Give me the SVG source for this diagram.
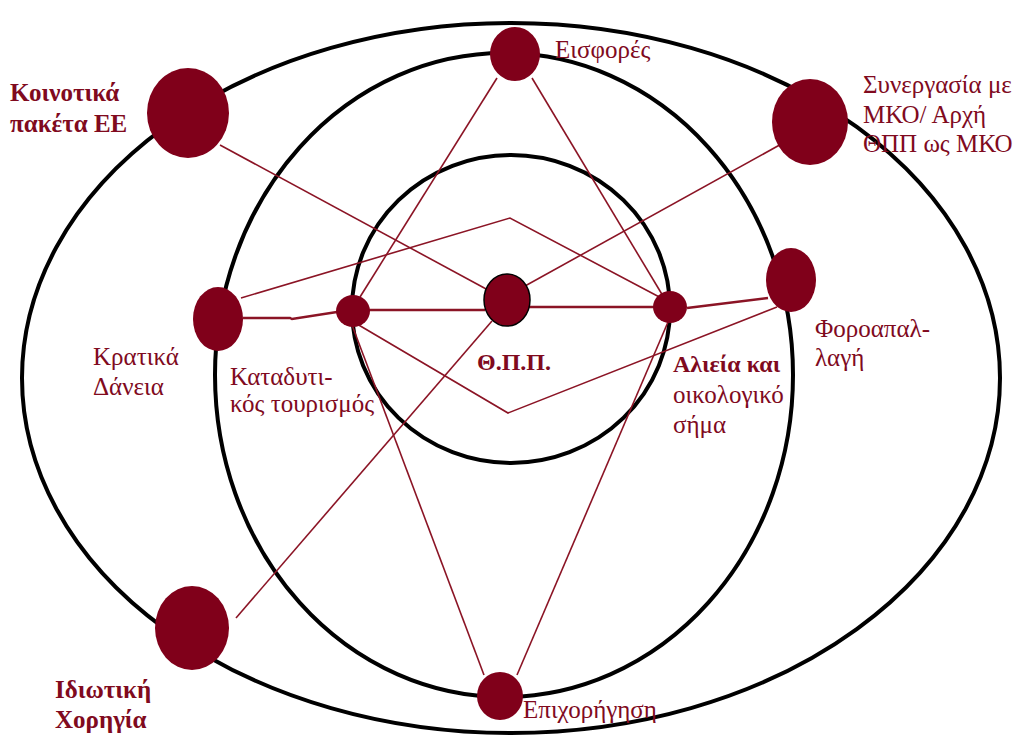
<svg xmlns="http://www.w3.org/2000/svg" width="1025" height="736" viewBox="0 0 1025 736">
<style>
.ring{fill:none;stroke:#000;stroke-width:4}
.ln{fill:none;stroke:#8b1425;stroke-width:1.6}
.th{stroke-width:2.4}
.nd{fill:#80001a}
.t{font-family:'Liberation Serif','Times New Roman',serif;font-size:25px;fill:#800a1e}
.b{font-weight:bold}
</style>
<rect width="1025" height="736" fill="#fff"/>
<g id="rings">
<ellipse class="ring" cx="511" cy="378" rx="489" ry="355"/>
<ellipse class="ring" cx="504" cy="375" rx="289" ry="322"/>
<ellipse class="ring" cx="511" cy="309" rx="159" ry="154"/>
</g>
<g id="connectors">
<line class="ln" x1="220" y1="145" x2="488" y2="290"/>
<line class="ln" x1="785" y1="142" x2="525" y2="286"/>
<polyline class="ln th" points="243,318 290,318 292,319 337,312"/>
<line class="ln th" x1="369" y1="310" x2="485" y2="310"/>
<line class="ln th" x1="529" y1="307" x2="654" y2="307"/>
<line class="ln th" x1="687" y1="308" x2="768" y2="298"/>
<polyline class="ln" points="777,307 508,413 357,324"/>
<polyline class="ln" points="241,298 510,218 665,300"/>
<line class="ln" x1="497" y1="78" x2="360" y2="297"/>
<line class="ln" x1="532" y1="78" x2="663" y2="296"/>
<line class="ln" x1="352" y1="325" x2="484" y2="675"/>
<line class="ln" x1="668" y1="322" x2="517" y2="675"/>
<line class="ln" x1="236" y1="618" x2="492" y2="321"/>
</g>
<g id="n-koinotika">
<ellipse class="nd" cx="188" cy="113" rx="41" ry="45"/>
<text class="t b" x="10" y="101">Κοινοτικά</text>
<text class="t b" x="10" y="132">πακέτα ΕΕ</text>
</g>
<g id="n-synergasia">
<ellipse class="nd" cx="810" cy="122" rx="38" ry="43"/>
<text class="t" x="863" y="93">Συνεργασία με</text>
<text class="t" x="863" y="123">ΜΚΟ/ Αρχή</text>
<text class="t" x="863" y="152">ΘΠΠ ως ΜΚΟ</text>
</g>
<g id="n-eisfores">
<ellipse class="nd" cx="515" cy="54" rx="25" ry="27"/>
<text class="t" x="555" y="58">Εισφορές</text>
</g>
<g id="n-kratika">
<ellipse class="nd" cx="218" cy="319" rx="25" ry="32"/>
<text class="t" x="93" y="365">Κρατικά</text>
<text class="t" x="93" y="395">Δάνεια</text>
</g>
<g id="n-katadytikos">
<ellipse class="nd" cx="353" cy="311" rx="17" ry="16"/>
<text class="t" x="230" y="385">Καταδυτι-</text>
<text class="t" x="230" y="412">κός τουρισμός</text>
</g>
<g id="n-thpp">
<ellipse class="nd" cx="507" cy="300" rx="23" ry="26" stroke="#000" stroke-width="1.5"/>
<text class="t b" x="477" y="370" style="font-size:24px">Θ.Π.Π.</text>
</g>
<g id="n-aleia">
<ellipse class="nd" cx="670" cy="307" rx="17" ry="16"/>
<text class="t b" x="673" y="372" style="font-size:24px">Αλιεία και</text>
<text class="t" x="673" y="403">οικολογικό</text>
<text class="t" x="673" y="433">σήμα</text>
</g>
<g id="n-foroapallagi">
<ellipse class="nd" cx="791" cy="280" rx="25" ry="32"/>
<text class="t" x="815" y="337">Φοροαπαλ-</text>
<text class="t" x="815" y="366">λαγή</text>
</g>
<g id="n-idiotiki">
<ellipse class="nd" cx="192" cy="628" rx="37" ry="42"/>
<text class="t b" x="55" y="698">Ιδιωτική</text>
<text class="t b" x="55" y="728">Χορηγία</text>
</g>
<g id="n-epichorigisi">
<ellipse class="nd" cx="500" cy="696" rx="23" ry="24"/>
<text class="t" x="523" y="718">Επιχορήγηση</text>
</g>
</svg>
